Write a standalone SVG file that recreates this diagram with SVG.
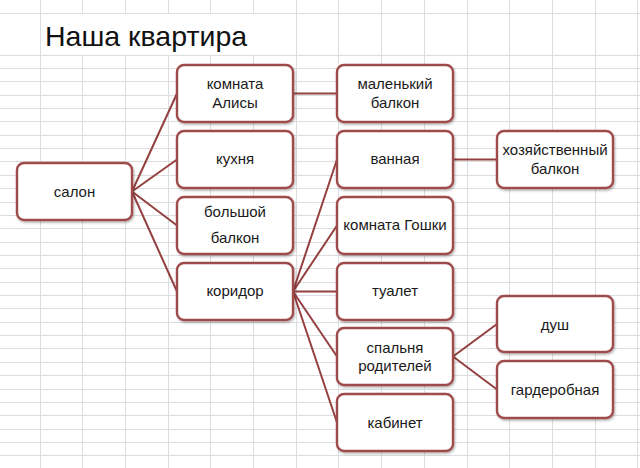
<svg xmlns="http://www.w3.org/2000/svg" width="640" height="468" viewBox="0 0 640 468">
<style>
.grid{stroke:#dcdddf;stroke-width:1;fill:none;shape-rendering:crispEdges}
.node rect{fill:#ffffff;stroke:#a04c4c;stroke-width:2.4;filter:url(#sh)}
.node text{font-family:"Liberation Sans",Arial,sans-serif;font-size:15px;fill:#1a1a1a;text-anchor:middle}
.conn line{stroke:#93403f;stroke-width:2;stroke-linecap:round}
.title{font-family:"Liberation Sans",Arial,sans-serif;font-size:28.5px;fill:#111111}
</style>
<defs>
<filter id="sh" x="-10%" y="-10%" width="125%" height="130%">
<feDropShadow dx="1" dy="1.5" stdDeviation="1.2" flood-color="#000000" flood-opacity="0.3"/>
</filter>
</defs>
<rect width="640" height="468" fill="#ffffff"/>
<g id="grid">
<path class="grid" d="M0 13.5H640M0 55.5H640M0 68.5H640M0 81.5H640M0 95.5H640M0 108.5H640M0 121.5H640M0 135.5H640M0 148.5H640M0 161.5H640M0 175.5H640M0 188.5H640M0 202.5H640M0 215.5H640M0 228.5H640M0 242.5H640M0 255.5H640M0 268.5H640M0 282.5H640M0 295.5H640M0 308.5H640M0 322.5H640M0 335.5H640M0 348.5H640M0 362.5H640M0 375.5H640M0 389.5H640M0 402.5H640M0 415.5H640M0 429.5H640M0 442.5H640M0 455.5H640"/>
<path class="grid" d="M40.5 0V468M296.5 0V468M338.5 0V468M381.5 0V468M424.5 0V468M467.5 0V468M509.5 0V468M552.5 0V468M595.5 0V468M637.5 0V468"/>
<path class="grid" d="M82.5 0V13M125.5 0V13M168.5 0V13M210.5 0V13M253.5 0V13M82.5 55V468M125.5 55V468M168.5 55V468M210.5 55V468M253.5 55V468"/>
</g>
<text class="title" x="45" y="46">Наша квартира</text>
<g id="connectors" class="conn">
<line x1="132" y1="191.5" x2="177" y2="93.5"/>
<line x1="132" y1="191.5" x2="177" y2="159.5"/>
<line x1="132" y1="191.5" x2="177" y2="225.5"/>
<line x1="132" y1="191.5" x2="177" y2="291.5"/>
<line x1="293" y1="93.5" x2="337" y2="93.5"/>
<line x1="293" y1="291.5" x2="337" y2="159.5"/>
<line x1="293" y1="291.5" x2="337" y2="225.5"/>
<line x1="293" y1="291.5" x2="337" y2="291.5"/>
<line x1="293" y1="291.5" x2="337" y2="356.5"/>
<line x1="293" y1="291.5" x2="337" y2="422.5"/>
<line x1="453" y1="159.5" x2="497" y2="159.5"/>
<line x1="453" y1="356.5" x2="497" y2="324"/>
<line x1="453" y1="356.5" x2="497" y2="389.5"/>
</g>
<g id="salon" class="node"><rect x="17" y="163" width="115" height="57" rx="7"/><text x="74.5" y="197">салон</text></g>
<g id="komnata-alisy" class="node"><rect x="177" y="65" width="116" height="57" rx="7"/><text x="235" y="89">комната</text><text x="235" y="108">Алисы</text></g>
<g id="kukhnya" class="node"><rect x="177" y="131" width="116" height="57" rx="7"/><text x="235" y="164">кухня</text></g>
<g id="bolshoy-balkon" class="node"><rect x="177" y="197" width="116" height="57" rx="7"/><text x="235" y="217">большой</text><text x="235" y="243">балкон</text></g>
<g id="koridor" class="node"><rect x="177" y="263" width="116" height="57" rx="7"/><text x="235" y="296">коридор</text></g>
<g id="malenkiy-balkon" class="node"><rect x="337" y="65" width="116" height="57" rx="7"/><text x="395" y="89">маленький</text><text x="395" y="108">балкон</text></g>
<g id="vannaya" class="node"><rect x="337" y="131" width="116" height="57" rx="7"/><text x="395" y="164">ванная</text></g>
<g id="komnata-goshki" class="node"><rect x="337" y="197" width="116" height="57" rx="7"/><text x="395" y="230">комната Гошки</text></g>
<g id="tualet" class="node"><rect x="337" y="263" width="116" height="57" rx="7"/><text x="395" y="296">туалет</text></g>
<g id="spalnya" class="node"><rect x="337" y="328" width="116" height="57" rx="7"/><text x="395" y="353">спальня</text><text x="395" y="371">родителей</text></g>
<g id="kabinet" class="node"><rect x="337" y="394" width="116" height="57" rx="7"/><text x="395" y="428">кабинет</text></g>
<g id="khoz-balkon" class="node"><rect x="497" y="131" width="116" height="57" rx="7"/><text x="555" y="155">хозяйственный</text><text x="555" y="174">балкон</text></g>
<g id="dush" class="node"><rect x="497" y="296" width="116" height="56" rx="7"/><text x="555" y="330">душ</text></g>
<g id="garderobnaya" class="node"><rect x="497" y="361" width="116" height="57" rx="7"/><text x="555" y="395">гардеробная</text></g>
</svg>
